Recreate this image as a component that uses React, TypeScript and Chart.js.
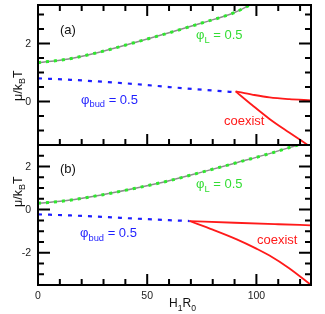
import React, { useEffect, useRef } from 'react';
import { Chart, registerables } from 'chart.js';
Chart.register(...registerables);

// ---------- axes ----------
const X_MIN = 0;
const X_MAX = 125;
const X_TICK_VALUES = [0, 10, 20, 30, 40, 50, 60, 70, 80, 90, 100, 110, 120];
const X_LABEL_VALUES = [0, 50, 100];

const A_Y_MIN = -1.5;
const A_Y_MAX = 3.33;
const A_Y_TICKS = [-1.5, -1, -0.5, 0, 0.5, 1, 1.5, 2, 2.5, 3];
const A_Y_LABELS = [0, 2];
const B_Y_MIN = -3.5;
const B_Y_MAX = 3.0;
const B_Y_TICKS = [-3.5, -3, -2.5, -2, -1.5, -1, -0.5, 0, 0.5, 1, 1.5, 2, 2.5, 3];
const B_Y_LABELS = [-2, 0, 2];

// ---------- panel (a) ----------
const aGreenX = [0, 14, 29, 44, 60, 75, 90, 97];
const aGreenY = [1.34, 1.47, 1.72, 2.03, 2.37, 2.71, 3.07, 3.33];
const aBlueX = [0, 15, 30, 45, 60, 75, 90.5];
const aBlueY = [0.8, 0.75, 0.68, 0.6, 0.5, 0.41, 0.32];
const aRedUpX = [90.5, 98, 106, 115, 125];
const aRedUpY = [0.35, 0.24, 0.14, 0.08, 0.04];
const aRedLowX = [90.5, 98, 106, 115, 123.5];
const aRedLowY = [0.35, -0.12, -0.6, -1.07, -1.5];

// ---------- panel (b) ----------
const bGreenX = [0, 14, 29, 44, 60, 75, 91, 106, 119];
const bGreenY = [0.29, 0.43, 0.68, 0.98, 1.34, 1.74, 2.18, 2.6, 3.0];
const bBlueX = [0, 15, 30, 45, 60, 69.4];
const bBlueY = [-0.22, -0.27, -0.34, -0.42, -0.49, -0.53];
const bRedUpX = [69.4, 90, 110, 125];
const bRedUpY = [-0.53, -0.61, -0.68, -0.73];
const bRedLowX = [69.4, 80, 91, 100, 106, 115, 125];
const bRedLowY = [-0.53, -0.93, -1.38, -1.81, -2.13, -2.72, -3.5];

const FONT = '"Liberation Sans", Arial, Helvetica, sans-serif';
const GREEN = '#2ee82e';
const GREEN_TEXT = '#33dd33';
const GRAY = '#8c8c8c';
const BLUE = '#1f1fff';
const RED = '#ff1a1a';

type Part = { t: string; sub?: boolean };
type Label = { parts: Part[]; x: number; y: number; size: number; color: string; rotate?: boolean };

const pts = (xs: number[], ys: number[]) => xs.map((x, i) => ({ x, y: ys[i] }));

function drawRich(ctx: CanvasRenderingContext2D, l: Label) {
  ctx.save();
  ctx.fillStyle = l.color;
  ctx.textBaseline = 'alphabetic';
  ctx.textAlign = 'left';
  ctx.translate(l.x, l.y);
  if (l.rotate) ctx.rotate(-Math.PI / 2);
  let cx = 0;
  for (const p of l.parts) {
    const s = p.sub ? l.size * 0.72 : l.size;
    ctx.font = `${s}px ${FONT}`;
    ctx.fillText(p.t, cx, p.sub ? l.size * 0.3 : 0);
    cx += ctx.measureText(p.t).width;
  }
  ctx.restore();
}

function lineSets(gx: number[], gy: number[], bx: number[], by: number[], rux: number[], ruy: number[], rlx: number[], rly: number[]) {
  const common = { pointRadius: 0, cubicInterpolationMode: 'monotone' as const, fill: false };
  return [
    { ...common, data: pts(gx, gy), borderColor: GREEN, borderWidth: 3, borderDash: [3, 5] },
    { ...common, data: pts(gx, gy), borderColor: GRAY, borderWidth: 1.5 },
    { ...common, data: pts(bx, by), borderColor: BLUE, borderWidth: 2.2, borderDash: [4, 6] },
    { ...common, data: pts(rux, ruy), borderColor: RED, borderWidth: 1.8 },
    { ...common, data: pts(rlx, rly), borderColor: RED, borderWidth: 1.8 },
  ];
}

function makeChart(
  canvas: HTMLCanvasElement,
  opts: {
    yMin: number; yMax: number; yTicks: number[]; yLabels: number[]; datasets: any[]; labels: Label[];
    showXLabels: boolean; ticksTop: boolean; padBottom: number;
  }
) {
  const frame = {
    id: 'frameTicks',
    afterDraw(chart: any) {
      const ctx: CanvasRenderingContext2D = chart.ctx;
      const a = chart.chartArea;
      const xs = chart.scales.x;
      const ys = chart.scales.y;
      ctx.save();
      ctx.setLineDash([]);
      ctx.strokeStyle = '#000';
      ctx.lineWidth = 2;
      ctx.strokeRect(a.left, a.top, a.right - a.left, a.bottom - a.top);
      ctx.restore();

      ctx.save();
      ctx.setLineDash([]);
      ctx.strokeStyle = '#000';
      ctx.lineWidth = 2;
      ctx.beginPath();
      X_TICK_VALUES.forEach((v) => {
        const px = xs.getPixelForValue(v);
        const len = X_LABEL_VALUES.indexOf(v) >= 0 ? 11 : 6;
        ctx.moveTo(px, a.bottom);
        ctx.lineTo(px, a.bottom - len);
        if (opts.ticksTop) {
          ctx.moveTo(px, a.top);
          ctx.lineTo(px, a.top + len);
        }
      });
      opts.yTicks.forEach((v) => {
        const py = ys.getPixelForValue(v);
        const len = opts.yLabels.indexOf(v) >= 0 ? 12 : 6;
        ctx.moveTo(a.left, py);
        ctx.lineTo(a.left + len, py);
        ctx.moveTo(a.right, py);
        ctx.lineTo(a.right - len, py);
      });
      ctx.stroke();
      ctx.restore();

      ctx.save();
      ctx.fillStyle = '#222';
      ctx.font = `10.5px ${FONT}`;
      ctx.textAlign = 'right';
      ctx.textBaseline = 'middle';
      for (const v of opts.yLabels) ctx.fillText(String(v), a.left - 7, ys.getPixelForValue(v) + 0.5);
      if (opts.showXLabels) {
        ctx.textAlign = 'center';
        for (const v of X_LABEL_VALUES) ctx.fillText(String(v), xs.getPixelForValue(v), a.bottom + 11.5);
      }
      ctx.restore();
      for (const l of opts.labels) drawRich(ctx, l);
    },
  };

  return new Chart(canvas, {
    type: 'line',
    data: { datasets: opts.datasets },
    plugins: [frame],
    options: {
      animation: false,
      responsive: false,
      maintainAspectRatio: false,
      layout: { autoPadding: false, padding: { left: 38, top: 5, right: 14, bottom: opts.padBottom } },
      plugins: { legend: { display: false }, tooltip: { enabled: false } },
      scales: {
        x: { type: 'linear', min: X_MIN, max: X_MAX, display: false },
        y: { type: 'linear', min: opts.yMin, max: opts.yMax, display: false },
      },
    } as any,
  });
}

const muParts: Part[] = [{ t: 'μ/k' }, { t: 'B', sub: true }, { t: 'T' }];
const phiL: Part[] = [{ t: 'φ' }, { t: 'L', sub: true }, { t: ' = 0.5' }];
const phiBud: Part[] = [{ t: 'φ' }, { t: 'bud', sub: true }, { t: ' = 0.5' }];

export default function App() {
  const refA = useRef<HTMLCanvasElement>(null);
  const refB = useRef<HTMLCanvasElement>(null);

  useEffect(() => {
    const chartA = makeChart(refA.current!, {
      yMin: A_Y_MIN, yMax: A_Y_MAX, yTicks: A_Y_TICKS, yLabels: A_Y_LABELS,
      datasets: lineSets(aGreenX, aGreenY, aBlueX, aBlueY, aRedUpX, aRedUpY, aRedLowX, aRedLowY),
      showXLabels: false, ticksTop: true, padBottom: 5,
      labels: [
        { parts: [{ t: '(a)' }], x: 60, y: 34, size: 13, color: '#111' },
        { parts: phiL, x: 196, y: 39, size: 13, color: GREEN_TEXT },
        { parts: phiBud, x: 81, y: 103.5, size: 13, color: BLUE },
        { parts: [{ t: 'coexist' }], x: 224, y: 125, size: 13, color: RED },
        { parts: muParts, x: 21.5, y: 101, size: 12.5, color: '#111', rotate: true },
      ],
    });
    const OFF = 140;
    const chartB = makeChart(refB.current!, {
      yMin: B_Y_MIN, yMax: B_Y_MAX, yTicks: B_Y_TICKS, yLabels: B_Y_LABELS,
      datasets: lineSets(bGreenX, bGreenY, bBlueX, bBlueY, bRedUpX, bRedUpY, bRedLowX, bRedLowY),
      showXLabels: true, ticksTop: false, padBottom: 29,
      labels: [
        { parts: [{ t: '(b)' }], x: 60, y: 173 - OFF, size: 13, color: '#111' },
        { parts: phiL, x: 196, y: 187.7 - OFF, size: 13, color: GREEN_TEXT },
        { parts: phiBud, x: 80, y: 236.7 - OFF, size: 13, color: BLUE },
        { parts: [{ t: 'coexist' }], x: 257, y: 244 - OFF, size: 13, color: RED },
        { parts: muParts, x: 21.5, y: 207 - OFF, size: 12.5, color: '#111', rotate: true },
        { parts: [{ t: 'H' }, { t: '1', sub: true }, { t: 'R' }, { t: '0', sub: true }], x: 169, y: 307 - OFF, size: 12, color: '#111' },
      ],
    });
    return () => { chartA.destroy(); chartB.destroy(); };
  }, []);

  return (
    <div style={{ position: 'absolute', left: 0, top: 0, width: 325, height: 314, background: '#fff' }}>
      <canvas ref={refA} width={325} height={150} style={{ position: 'absolute', left: 0, top: 0 }} />
      <canvas ref={refB} width={325} height={174} style={{ position: 'absolute', left: 0, top: 140 }} />
    </div>
  );
}
